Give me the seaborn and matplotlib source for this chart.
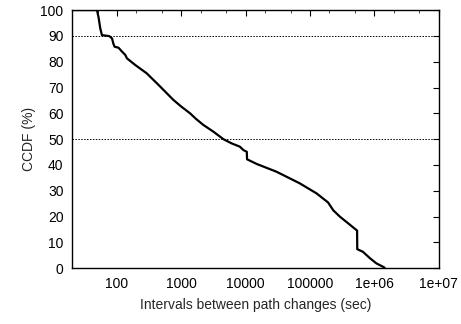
import numpy as np
import pandas as pd
import matplotlib
matplotlib.use("Agg")
import matplotlib.pyplot as plt
import seaborn as sns

# interval (sec) vs CCDF (%)
interval_sec = [20, 49, 52, 55, 58.5, 76, 84, 88, 92, 106, 120, 135, 143, 193, 290,
                443, 753, 1000, 1368, 1700, 2200, 3150, 4500, 6000, 8100, 9190, 10400,
                10500, 14800, 30000, 69000, 126000, 190000, 230000, 290000, 525000,
                537000, 540000, 660000, 850000, 1070000, 1400000, 1450000]
ccdf_pct = [100, 100, 97, 93, 90.3, 89.9, 89, 87, 85.8, 85.4, 83.9, 82.6, 81.3, 78.7, 75.5,
            71, 65.2, 62.6, 60, 57.8, 55.5, 52.9, 50, 48.4, 47.1, 45.8, 45.1,
            42.2, 40.4, 37.4, 32.9, 29.0, 25.5, 22.4, 20.0, 14.8,
            14.6, 7.4, 6.4, 3.9, 1.9, 0.4, 0]
ref_lines = [90, 50]
x_ticks = [100, 1000, 10000, 100000, 1000000, 10000000]
x_ticklabels = ["100", "1000", "10000", "100000", "1e+06", "1e+07"]
y_ticks = list(range(0, 101, 10))

df = pd.DataFrame({"interval": interval_sec, "ccdf": ccdf_pct})

sns.set_style("white")
plt.rcParams["font.family"] = ["Liberation Sans", "DejaVu Sans"]

fig = plt.figure(figsize=(4.61, 3.24), dpi=100)
ax = fig.add_axes([0.156, 0.172, 0.796, 0.797])

for v in ref_lines:
    ax.axhline(v, color="black", lw=0.7, ls=(0, (1.5, 1.5)), zorder=1)

sns.lineplot(data=df, x="interval", y="ccdf", sort=False, color="black",
             lw=1.6, ax=ax, zorder=3)

ax.set_xscale("log")
ax.set_xlim(20, 1e7)
ax.set_ylim(0, 100)
ax.set_xticks(x_ticks)
ax.set_xticklabels(x_ticklabels)
ax.set_yticks(y_ticks)
ax.xaxis.set_minor_locator(matplotlib.ticker.LogLocator(base=10, subs=[2, 5], numticks=20))
ax.xaxis.set_minor_formatter(matplotlib.ticker.NullFormatter())

ax.tick_params(which="major", direction="in", length=4, width=0.8,
               top=True, right=True, labelsize=10, colors="black", pad=6)
ax.tick_params(which="minor", direction="in", length=2, width=0.6, top=True)

for s in ax.spines.values():
    s.set_color("black")
    s.set_linewidth(1.0)

ax.set_xlabel("Intervals between path changes (sec)", fontsize=10, labelpad=5)
ax.set_ylabel("CCDF (%)", fontsize=10, labelpad=3)

fig.savefig("out.png", dpi=100)
